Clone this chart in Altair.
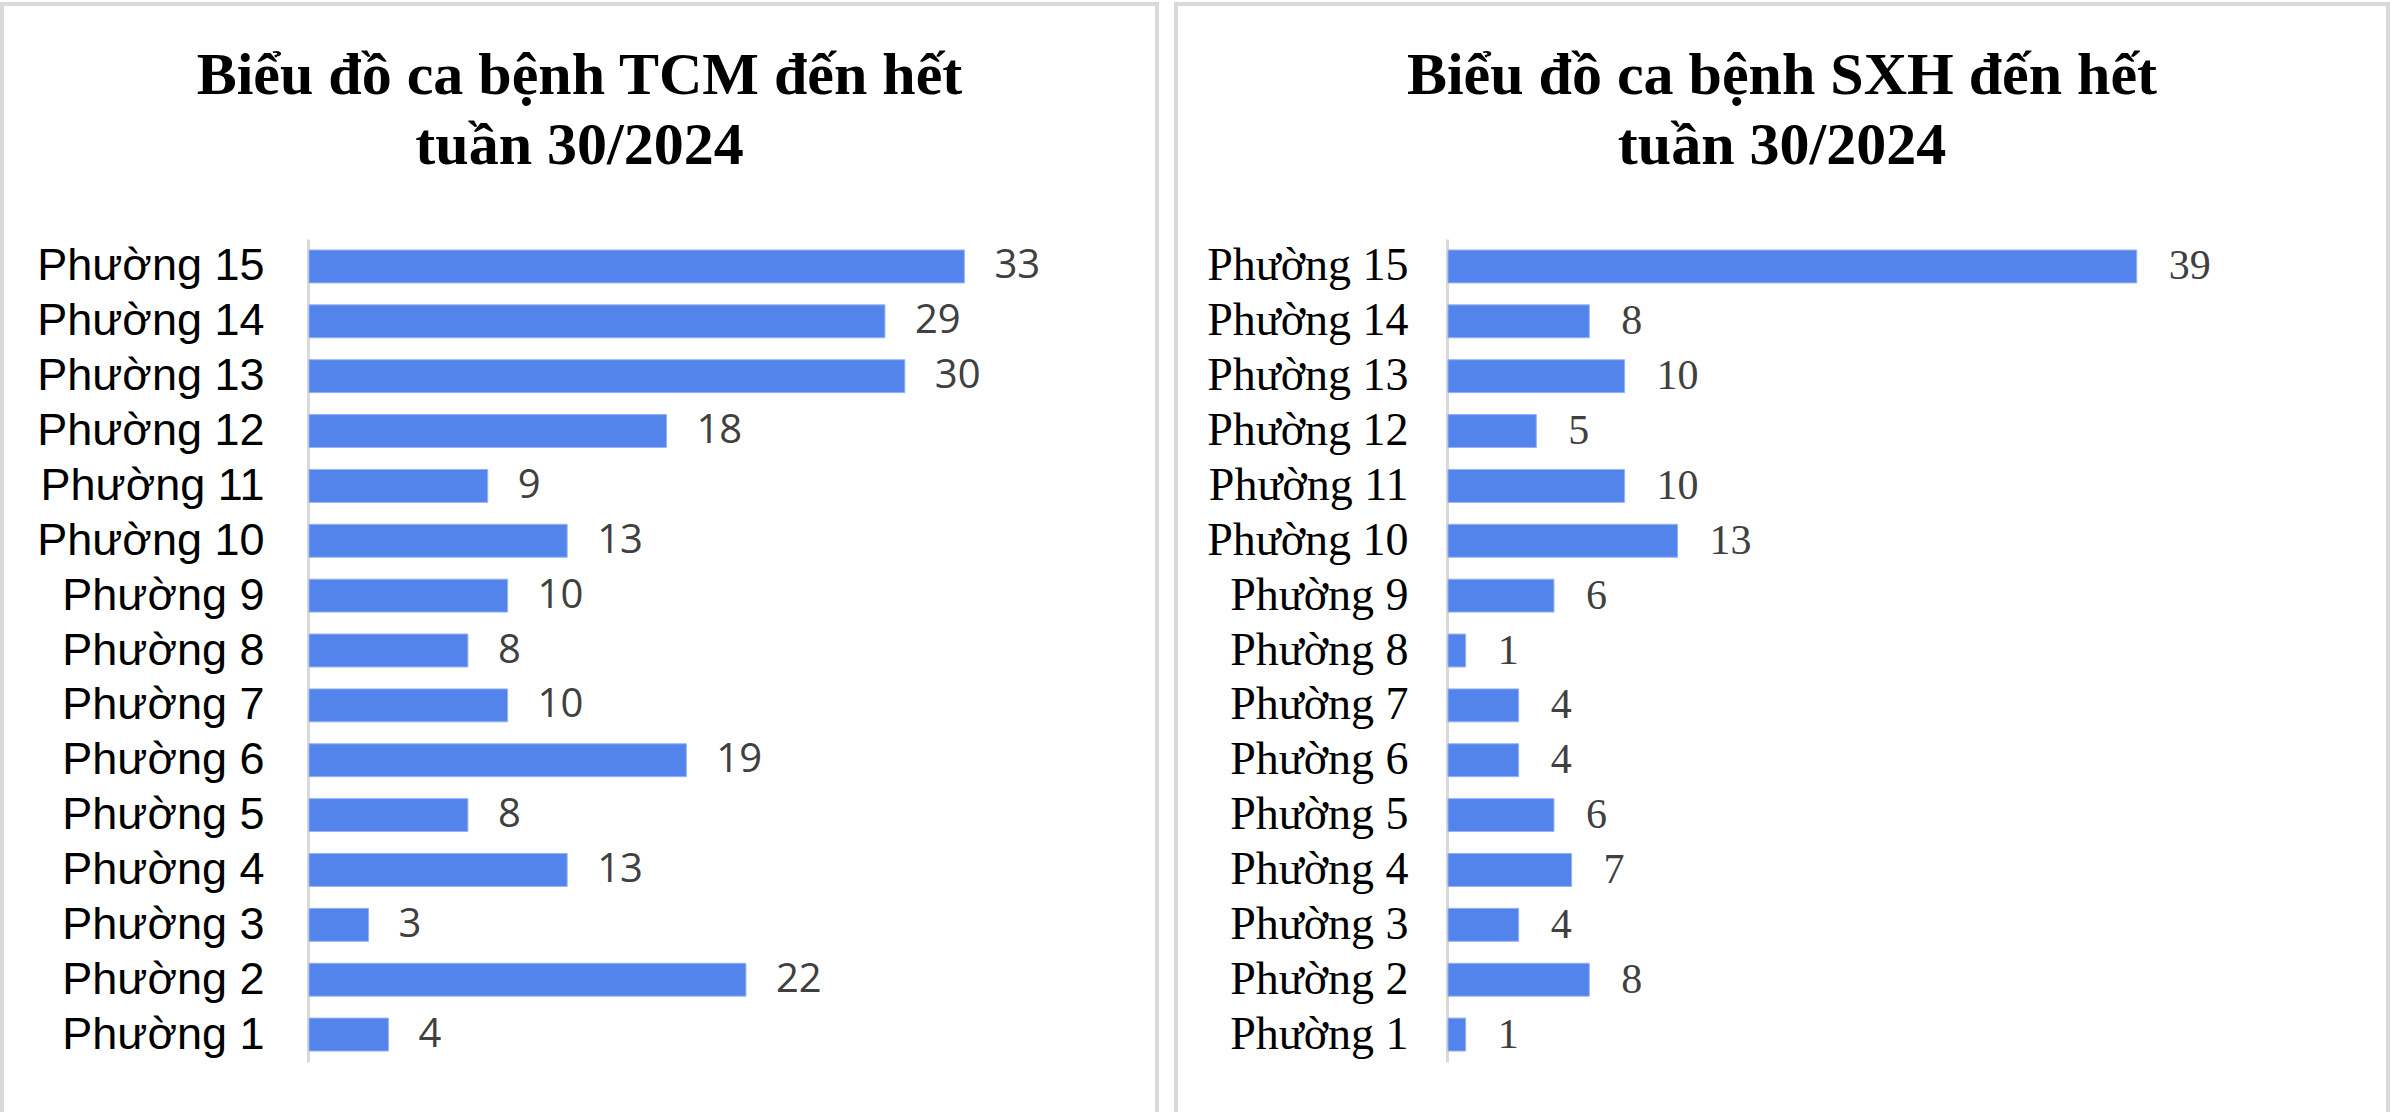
import altair as alt
import pandas as pd

wards = ["Phường 15", "Phường 14", "Phường 13", "Phường 12", "Phường 11", "Phường 10",
         "Phường 9", "Phường 8", "Phường 7", "Phường 6", "Phường 5", "Phường 4",
         "Phường 3", "Phường 2", "Phường 1"]
tcm_cases = [33, 29, 30, 18, 9, 13, 10, 8, 10, 19, 8, 13, 3, 22, 4]
sxh_cases = [39, 8, 10, 5, 10, 13, 6, 1, 4, 4, 6, 7, 4, 8, 1]

title_tcm = ["Biểu đồ ca bệnh TCM đến hết", "tuần 30/2024"]
title_sxh = ["Biểu đồ ca bệnh SXH đến hết", "tuần 30/2024"]

BAR = "#5384EC"
BAR_EDGE = "#94B3F2"
GRID = "#D9D9D9"


def panel(values, title, width, x_start, px_per_unit, label_font, label_size,
          label_pad, value_font, value_size, value_dx):
    df = pd.DataFrame({"ward": wards, "cases": values})
    y = alt.Y("ward:N", sort=wards,
              scale=alt.Scale(range=[235, 1058], paddingInner=0.4, paddingOuter=0.2),
              axis=alt.Axis(title=None, ticks=False, domainColor=GRID, domainWidth=3,
                            labelFont=label_font, labelFontSize=label_size,
                            labelColor="#000000", labelPadding=label_pad,
                            offset=-x_start + 1, labelLimit=400))
    x = alt.X("cases:Q", axis=None,
              scale=alt.Scale(domain=[0, 40], range=[x_start, x_start + 40 * px_per_unit],
                              nice=False, zero=True))
    base = alt.Chart(df)
    bars = base.mark_bar(color=BAR, stroke=BAR_EDGE, strokeWidth=1).encode(x=x, y=y)
    labels = base.mark_text(align="left", baseline="middle", dx=value_dx,
                            font=value_font, fontSize=value_size, color="#404040").encode(
        x=x, y=alt.Y("ward:N", sort=wards), text="cases:Q")
    return alt.layer(bars, labels).properties(
        width=width, height=1114,
        title=alt.TitleParams(text=title, font="Liberation Serif", fontWeight="bold",
                              fontSize=60, lineHeight=70, color="#000000",
                              anchor="middle", frame="group", offset=-173),
    )


left = panel(tcm_cases, title_tcm, 1155, 307, 19.86, "Liberation Sans", 45, 44,
             "Open Sans", 40, 30)
right = panel(sxh_cases, title_sxh, 1212, 272, 17.66, "Liberation Serif", 46, 39,
              "Liberation Serif", 42, 32)

chart = alt.hconcat(left, right, spacing=19, bounds="flush").properties(
    padding={"left": 0, "top": 2, "right": 0, "bottom": 0},
    background="#FFFFFF",
).configure_view(stroke=GRID, strokeWidth=4)

chart.save("out.html", embed_options={"renderer": "svg", "actions": False})
